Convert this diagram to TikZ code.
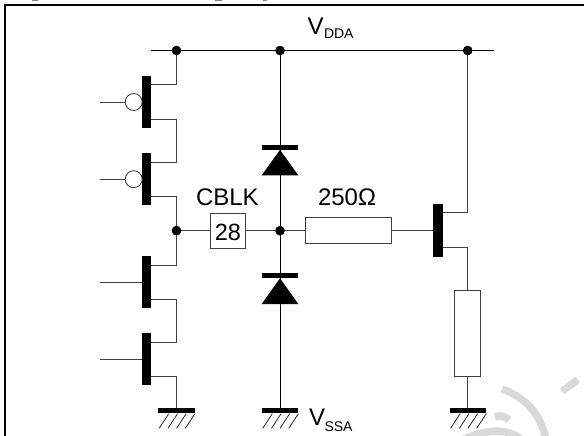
\documentclass[tikz,border=0pt]{standalone}
\usepackage{fontspec}
\setmainfont{Liberation Sans}
\definecolor{wm}{HTML}{D9D9D9}
\tikzset{
  wire/.style={draw=black,line width=0.9pt},
  thinwire/.style={draw=black!75,line width=0.9pt},
  gatebar/.style={fill=black,inner sep=0pt,outer sep=0pt,minimum width=9.4pt,minimum height=52pt},
  dot/.style={circle,fill=black,inner sep=0pt,outer sep=0pt,minimum size=9.4pt},
  bubble/.style={circle,draw=black!80,fill=white,line width=0.8pt,inner sep=0pt,outer sep=0pt,minimum size=17pt},
  rbox/.style={rectangle,draw=black!75,fill=white,line width=0.9pt,inner sep=0pt,outer sep=0pt},
  hbar/.style={fill=black,inner sep=0pt,outer sep=0pt,minimum width=36.6pt,minimum height=5.2pt},
  lab/.style={inner sep=0pt,outer sep=0pt,anchor=base west,font=\fontsize{24}{24}\selectfont},
  sublab/.style={inner sep=0pt,outer sep=0pt,anchor=base west,font=\fontsize{14}{14}\selectfont},
  hatch/.style={draw=black!85,line width=0.8pt},
  wmark/.style={wm,line width=7.5pt}
}
\newcommand{\gndhatch}[1]{%
  \foreach \d in {0,8.8,17.4,26.1}{
    \draw[hatch] ([xshift=\d pt+1.0pt,yshift=-15pt]#1.south west) -- ([xshift=\d pt+10.5pt,yshift=-0.5pt]#1.south west);
  }}
\begin{document}
\begin{tikzpicture}[x=1pt,y=-1pt]
\useasboundingbox (0,0) rectangle (584,436);
\clip (0,0) rectangle (584,436);
% watermark
\fill[wm] (559.7,388.7) -- (575.7,376.7) -- (580,382.7) -- (564,394) -- cycle;
\draw[wmark] (502,389) .. controls (525,397) and (541,414) .. (546,440);
\draw[wmark] (495,417) .. controls (500,415) and (505,416) .. (509,420);
\draw[wmark] (462,440) .. controls (480,432) and (505,425) .. (522,440);
% caption remains and frame
\fill[black!45] (32,0) rectangle (38,1.2) (215,0) rectangle (222,1.2) (263,0) rectangle (267,1.2);
\draw[black,line width=2pt] (4.5,436) -- (4.5,5) -- (584,5);
% coordinates
\coordinate (railL) at (151,50.5);
\coordinate (railR) at (494,50.5);
\node[dot] (d1) at (176.5,50.5) {};
\node[dot] (d2) at (280,50.5) {};
\node[dot] (d3) at (467.7,50.5) {};
\node[dot] (d4) at (176.5,230.7) {};
\node[dot] (d5) at (280,230.7) {};
% transistor bars
\node[gatebar] (p1) at (146.6,102) {};
\node[gatebar] (p2) at (146.6,179.2) {};
\node[gatebar] (n1) at (146.6,282) {};
\node[gatebar] (n2) at (146.6,359.2) {};
\node[gatebar,minimum height=52.7pt] (t) at (438,230.7) {};
% stubs ends
\foreach \n/\y in {a/84.7,b/119,c/162,e/196.7,f/265,g/299,h/342,i/376.7}{
  \coordinate (s\n) at (151.3,\y);
}
\coordinate (ts) at (442.7,212.7);
\coordinate (td) at (442.7,247.7);
% gate leads
\coordinate (g1) at (100,102);
\coordinate (g2) at (100,179.2);
\coordinate (g3) at (100,282);
\coordinate (g4) at (100,359.2);
\node[bubble] (b1) at (133.7,102) {};
\node[bubble] (b2) at (133.7,179.2) {};
% grounds
\node[hbar] (gnd1) at (176.5,410.7) {};
\node[hbar] (gnd2) at (280,410.7) {};
\node[hbar] (gnd3) at (467.9,410.7) {};
% diodes
\node[hbar] (db1) at (280,147.2) {};
\node[hbar] (db2) at (280,275.7) {};
% boxes
\node[rbox,minimum width=34.6pt,minimum height=34.6pt] (cblk) at (228,230.7) {};
\node[rbox,minimum width=86pt,minimum height=26pt] (r1) at (348,230.7) {};
\node[rbox,minimum width=26pt,minimum height=86pt] (r2) at (467.9,333.3) {};
% wires
\draw[wire] (railL) -- (railR);
\draw[wire] (d2) -- (db1);
\draw[wire] (db1) -- (d5);
\draw[wire] (d5) -- (db2);
\draw[wire] (db2) -- (gnd2);
\draw[thinwire] (d1) |- (sa);
\draw[thinwire] (sb) -| (176.5,162) -- (sc);
\draw[thinwire] (se) -| (d4);
\draw[thinwire] (d4) |- (sf);
\draw[thinwire] (sg) -| (176.5,342) -- (sh);
\draw[thinwire] (si) -| (gnd1);
\draw[thinwire] (d4) -- (cblk);
\draw[thinwire] (cblk) -- (d5);
\draw[thinwire] (d5) -- (r1);
\draw[thinwire] (r1) -- (t);
\draw[thinwire] (d3) |- (ts);
\draw[thinwire] (td) -| (r2.north);
\draw[thinwire] (r2) -- (gnd3);
\draw[thinwire] (g1) -- (b1);
\draw[thinwire] (g2) -- (b2);
\draw[thinwire] (g3) -- (n1);
\draw[thinwire] (g4) -- (n2);
% diode triangles
\fill[black] (db1.south) -- (db1.south west |- 0,175.3) -- (db1.south east |- 0,175.3) -- cycle;
\fill[black] (db2.south) -- (db2.south west |- 0,304) -- (db2.south east |- 0,304) -- cycle;
% dots above wires
\node[dot] at (d1) {};
\node[dot] at (d2) {};
\node[dot] at (d3) {};
\node[dot] at (d4) {};
\node[dot] at (d5) {};
% hatches
\gndhatch{gnd1}
\gndhatch{gnd2}
\gndhatch{gnd3}
% labels
\node[lab] (lblk) at (196,205) {CBLK};
\node[inner sep=0pt,outer sep=0pt,anchor=base,font=\fontsize{23.5}{24}\selectfont] (l28) at (228,240.7) {28};
\node[lab] (lr) at (318,205) {250Ω};
\node[lab] (lv) at (307.5,34.3) {V};
\node[sublab] (ldda) at (324,39) {DDA};
\node[lab] (lv2) at (309,425.7) {V};
\node[sublab] (lssa) at (324.5,431.7) {SSA};
\end{tikzpicture}
\end{document}
